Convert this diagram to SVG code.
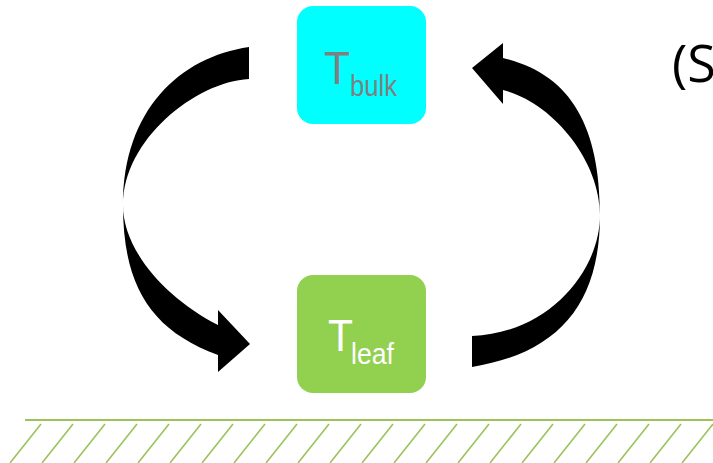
<svg xmlns="http://www.w3.org/2000/svg" width="713" height="463" viewBox="0 0 713 463">
<style>
.node{stroke:none}
.lbl{font-family:"Liberation Sans",Arial,sans-serif}
.arrow{fill:#000;stroke:none}
.hatch{stroke:#9BC35A;stroke-width:1.6}
</style>
<rect width="713" height="463" fill="#fff"/>
<g id="connectors">
<path class="arrow" d="M249,47 L249,79 C195,82 123,140 123,205 C123,250 165,298 218,325 L218,310 L250,344 L218,372 L218,355 C150,330 123,285 123,205 C123,110 180,57 249,47 Z"/>
<path class="arrow" d="M472,367 L472,336 C550,333 600,270 600,215 C600,160 552,102 503,90 L503,104 L472,68 L503,43 L503,58 C570,74 600,125 600,215 C600,305 558,353 472,367 Z"/>
</g>
<g id="node-bulk">
<rect class="node" x="297" y="6" width="129" height="118" rx="16" fill="#00FFFF"/>
<text class="lbl" x="324" y="84" font-size="47" fill="#7F7F7F" textLength="26" lengthAdjust="spacingAndGlyphs">T</text>
<text class="lbl" x="350" y="96" font-size="30" fill="#7F7F7F" textLength="47" lengthAdjust="spacingAndGlyphs">bulk</text>
</g>
<g id="node-leaf">
<rect class="node" x="297" y="275" width="129" height="118" rx="16" fill="#92D050"/>
<text class="lbl" x="328" y="351" font-size="45" fill="#FFFFFF" textLength="25" lengthAdjust="spacingAndGlyphs">T</text>
<text class="lbl" x="351" y="364" font-size="30" fill="#FFFFFF" textLength="43" lengthAdjust="spacingAndGlyphs">leaf</text>
</g>
<g id="title">
<text x="672" y="82" font-family="'Open Sans','Noto Sans',sans-serif" font-size="52" fill="#000">(S</text>
</g>
<g id="ground">
<line x1="25" y1="420" x2="713" y2="420" stroke="#9BC35A" stroke-width="2"/>
<g class="hatch">
<line x1="10" y1="463" x2="41" y2="424"/>
<line x1="42" y1="463" x2="73" y2="424"/>
<line x1="74" y1="463" x2="105" y2="424"/>
<line x1="106" y1="463" x2="137" y2="424"/>
<line x1="138" y1="463" x2="169" y2="424"/>
<line x1="170" y1="463" x2="201" y2="424"/>
<line x1="202" y1="463" x2="233" y2="424"/>
<line x1="234" y1="463" x2="265" y2="424"/>
<line x1="266" y1="463" x2="297" y2="424"/>
<line x1="298" y1="463" x2="329" y2="424"/>
<line x1="330" y1="463" x2="361" y2="424"/>
<line x1="362" y1="463" x2="393" y2="424"/>
<line x1="394" y1="463" x2="425" y2="424"/>
<line x1="426" y1="463" x2="457" y2="424"/>
<line x1="458" y1="463" x2="489" y2="424"/>
<line x1="490" y1="463" x2="521" y2="424"/>
<line x1="522" y1="463" x2="553" y2="424"/>
<line x1="554" y1="463" x2="585" y2="424"/>
<line x1="586" y1="463" x2="617" y2="424"/>
<line x1="618" y1="463" x2="649" y2="424"/>
<line x1="650" y1="463" x2="681" y2="424"/>
<line x1="682" y1="463" x2="713" y2="424"/>
</g>
</g>
</svg>
